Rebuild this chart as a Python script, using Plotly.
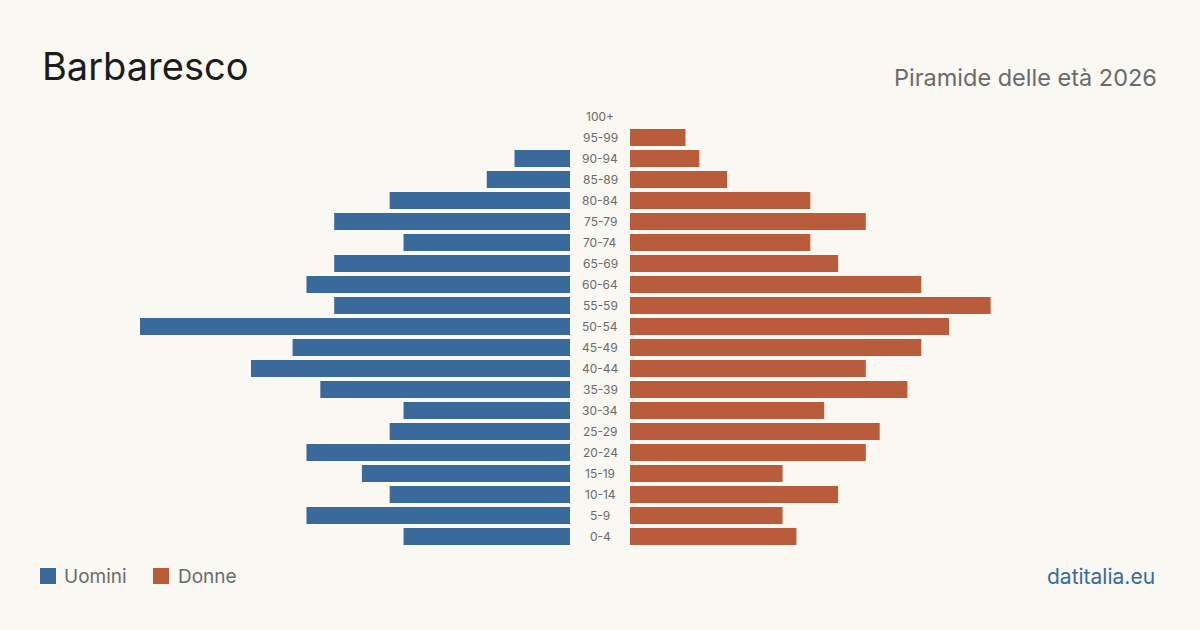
import plotly.graph_objects as go

ages = ["0-4", "5-9", "10-14", "15-19", "20-24", "25-29", "30-34", "35-39", "40-44",
        "45-49", "50-54", "55-59", "60-64", "65-69", "70-74", "75-79", "80-84",
        "85-89", "90-94", "95-99", "100+"]
uomini = [12, 19, 13, 15, 19, 13, 12, 18, 23, 20, 31, 17, 19, 17, 12, 17, 13, 6, 4, 0, 0]
donne = [12, 11, 15, 11, 17, 18, 14, 20, 17, 21, 23, 26, 21, 15, 13, 17, 13, 7, 5, 4, 0]

BLUE = "#3a6a9b"
ORANGE = "#b95c3c"
BG = "#f9f8f3"
FONT = "Inter"

W, H = 1200, 630
xmax = max(max(uomini), max(donne))

fig = go.Figure()
fig.add_trace(go.Bar(y=ages, x=uomini, orientation="h", marker_color=BLUE,
                     marker_line_width=0,
                     xaxis="x", yaxis="y", showlegend=False, hoverinfo="x+y"))
fig.add_trace(go.Bar(y=ages, x=donne, orientation="h", marker_color=ORANGE,
                     marker_line_width=0,
                     xaxis="x2", yaxis="y2", showlegend=False, hoverinfo="x+y"))

ydom = [(630 - 547) / H, (630 - 106) / H]
fig.update_layout(
    width=W, height=H,
    paper_bgcolor=BG, plot_bgcolor=BG,
    margin=dict(l=0, r=0, t=0, b=0),
    bargap=4 / 21,
    font=dict(family=FONT),
    xaxis=dict(domain=[140 / W, 570 / W], range=[xmax, 0], visible=False, fixedrange=True),
    xaxis2=dict(domain=[630 / W, 1060 / W], range=[0, xmax], visible=False, fixedrange=True),
    yaxis=dict(domain=ydom, anchor="x", visible=False, categoryorder="array",
               categoryarray=ages, range=[-0.5, len(ages) - 0.5]),
    yaxis2=dict(domain=ydom, anchor="x2", visible=False, categoryorder="array",
                categoryarray=ages, range=[-0.5, len(ages) - 0.5]),
)

annotations = []
for a in ages:
    annotations.append(dict(x=600 / W, xref="paper", y=a, yref="y", text=a,
                            showarrow=False, xanchor="center", yanchor="middle",
                            font=dict(size=12, color="#6b6b6b", family=FONT)))
annotations += [
    dict(x=40 / W, y=1 - 66 / H, xref="paper", yref="paper", text="Barbaresco",
         showarrow=False, xanchor="left", yanchor="middle",
         font=dict(size=38, color="#1c1c1c", family=FONT)),
    dict(x=1159 / W, y=1 - 77 / H, xref="paper", yref="paper", text="Piramide delle età 2026",
         showarrow=False, xanchor="right", yanchor="middle",
         font=dict(size=23.5, color="#6b6b6b", family=FONT)),
    dict(x=62 / W, y=1 - 576 / H, xref="paper", yref="paper", text="Uomini",
         showarrow=False, xanchor="left", yanchor="middle",
         font=dict(size=19, color="#6b6b6b", family=FONT)),
    dict(x=176 / W, y=1 - 576 / H, xref="paper", yref="paper", text="Donne",
         showarrow=False, xanchor="left", yanchor="middle",
         font=dict(size=19, color="#6b6b6b", family=FONT)),
    dict(x=1157 / W, y=1 - 576 / H, xref="paper", yref="paper", text="datitalia.eu",
         showarrow=False, xanchor="right", yanchor="middle",
         font=dict(size=21, color=BLUE, family=FONT)),
]
fig.update_layout(annotations=annotations)

shapes = [
    dict(type="rect", xref="paper", yref="paper", x0=40 / W, x1=56 / W,
         y0=1 - 584 / H, y1=1 - 568 / H, fillcolor=BLUE, line_width=0),
    dict(type="rect", xref="paper", yref="paper", x0=153 / W, x1=169 / W,
         y0=1 - 584 / H, y1=1 - 568 / H, fillcolor=ORANGE, line_width=0),
]
fig.update_layout(shapes=shapes)

fig.write_html("out.html")
